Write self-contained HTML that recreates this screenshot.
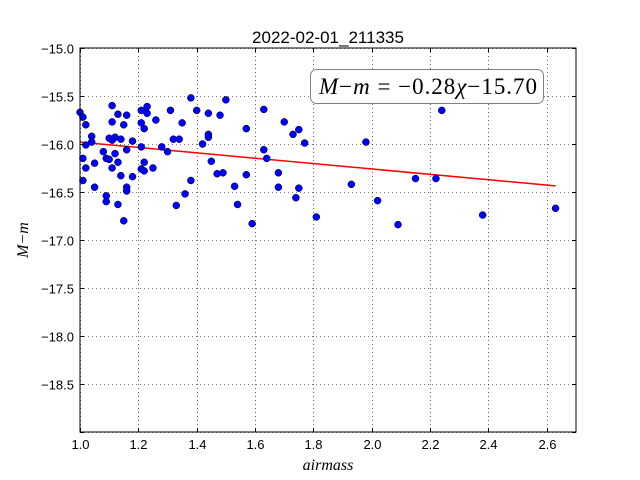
<!DOCTYPE html>
<html><head><meta charset="utf-8"><style>
body{margin:0;background:#fff;}
svg{display:block;font-family:"Liberation Sans",sans-serif;}
</style></head><body>
<svg id="chart" width="640" height="480" xmlns="http://www.w3.org/2000/svg">
<rect width="640" height="480" fill="#fff"/>
<text x="328" y="43" font-size="17" text-anchor="middle">2022-02-01_211335</text>
<g id="grid"></g>
<g id="fit"></g>
<g id="pts"></g>
<rect x="80" y="48" width="496" height="384" fill="none" stroke="#000" stroke-width="1"/>
<g id="ticks"></g>
<g>
<rect x="310.5" y="69.5" width="233" height="34" rx="6" fill="#fff" stroke="#808080" stroke-width="1"/>
<text x="428" y="94" font-size="23" text-anchor="middle" font-family="'Liberation Serif',serif" textLength="218" lengthAdjust="spacing"><tspan font-style="italic">M</tspan>−<tspan font-style="italic">m</tspan> = −0.28<tspan font-style="italic">χ</tspan>−15.70</text>
</g>
<text x="328" y="470" font-size="16" text-anchor="middle" font-style="italic" font-family="'Liberation Serif',serif">airmass</text>
<text x="28" y="240" font-size="16" text-anchor="middle" font-style="italic" font-family="'Liberation Serif',serif" transform="rotate(-90 28 240)">M−m</text>
</svg>
<script>
const airmass=[1.00,1.01,1.02,1.04,1.04,1.02,1.10,1.11,1.12,1.14,1.11,1.13,1.11,1.15,1.16,1.18,1.16,1.08,1.09,1.10,1.12,1.13,1.11,1.14,1.18,1.01,1.02,1.05,1.01,1.05,1.16,1.16,1.09,1.09,1.13,1.15,1.21,1.23,1.23,1.21,1.22,1.26,1.21,1.22,1.21,1.22,1.25,1.28,1.30,1.31,1.35,1.32,1.34,1.38,1.40,1.44,1.48,1.50,1.44,1.44,1.42,1.45,1.47,1.49,1.38,1.36,1.33,1.57,1.53,1.57,1.54,1.59,1.63,1.63,1.64,1.70,1.73,1.75,1.77,1.98,2.24,1.68,1.68,1.75,1.74,1.93,2.15,2.22,2.02,1.81,2.09,2.38,2.63];
const mag=[-15.67,-15.72,-15.80,-15.92,-15.98,-16.01,-15.94,-15.96,-15.93,-15.95,-15.60,-15.69,-15.77,-15.80,-15.70,-15.97,-16.06,-16.08,-16.15,-16.16,-16.10,-16.19,-16.25,-16.33,-16.34,-16.15,-16.25,-16.20,-16.38,-16.45,-16.45,-16.49,-16.54,-16.60,-16.63,-16.80,-15.65,-15.61,-15.68,-15.78,-15.84,-15.75,-16.03,-16.19,-16.26,-16.28,-16.25,-16.03,-16.08,-15.65,-15.78,-15.95,-15.95,-15.52,-15.65,-15.68,-15.70,-15.54,-15.90,-15.93,-16.00,-16.18,-16.31,-16.30,-16.38,-16.52,-16.64,-15.84,-16.44,-16.32,-16.63,-16.83,-15.64,-16.06,-16.15,-15.77,-15.90,-15.85,-15.99,-15.98,-15.65,-16.30,-16.45,-16.46,-16.56,-16.42,-16.36,-16.36,-16.59,-16.76,-16.84,-16.74,-16.67];
const slope=-0.28, intercept=-15.70;
const xTicks=[1.0,1.2,1.4,1.6,1.8,2.0,2.2,2.4,2.6];
const yTicks=[-15.0,-15.5,-16.0,-16.5,-17.0,-17.5,-18.0,-18.5];
const yGridExtra=[-19.0];
const NS='http://www.w3.org/2000/svg';
const X0=80,X1=576,Y0=48,Y1=432,xmin=1.0,xmax=2.7,ymax=-15.0,ymin=-19.0;
function sx(v){return X0+(v-xmin)/(xmax-xmin)*(X1-X0);}
function sy(v){return Y0+(ymax-v)/(ymax-ymin)*(Y1-Y0);}
function mk(tag,attrs,parent){const e=document.createElementNS(NS,tag);for(const k in attrs)e.setAttribute(k,attrs[k]);parent.appendChild(e);return e;}
const grid=document.getElementById('grid'),ticks=document.getElementById('ticks'),pts=document.getElementById('pts'),fit=document.getElementById('fit');
xTicks.forEach(t=>{const x=Math.round(sx(t))+0.5;
 const g=mk('line',{x1:x,x2:x,y1:Y0,y2:Y1,stroke:'#000','stroke-dasharray':'1,3','stroke-width':0.6},grid);
 
 
 mk('line',{x1:x,x2:x,y1:Y1,y2:Y1-4,stroke:'#000'},ticks);
 mk('line',{x1:x,x2:x,y1:Y0,y2:Y0+4,stroke:'#000'},ticks);
 const l=mk('text',{x:x,y:Y1+17,'font-size':13,'text-anchor':'middle'},ticks);l.textContent=t.toFixed(1);
 
 });
yTicks.concat(yGridExtra).forEach((t,i)=>{const y=Math.round(sy(t))+0.5;
 const g=mk('line',{x1:X0,x2:X1,y1:y,y2:y,stroke:'#000','stroke-dasharray':'1,3','stroke-width':0.6},grid);
 
 
 mk('line',{x1:X0,x2:X0+4,y1:y,y2:y,stroke:'#000'},ticks);
 mk('line',{x1:X1,x2:X1-4,y1:y,y2:y,stroke:'#000'},ticks);
 if(i<yTicks.length){const l=mk('text',{x:X0-6,y:y+5,'font-size':13,'text-anchor':'end'},ticks);l.textContent=t.toFixed(1).replace('-','−');
 
 }});
const xa=Math.min(...airmass),xb=Math.max(...airmass);
const fl=mk('line',{x1:sx(xa),y1:sy(slope*xa+intercept),x2:sx(xb),y2:sy(slope*xb+intercept),stroke:'#f00','stroke-width':1.5},fit);


airmass.forEach((a,i)=>{const c=mk('circle',{cx:sx(a),cy:sy(mag[i]),r:3.5,fill:'#0000ff',stroke:'#000','stroke-width':0.5},pts);
 
 });
</script>
</body></html>
